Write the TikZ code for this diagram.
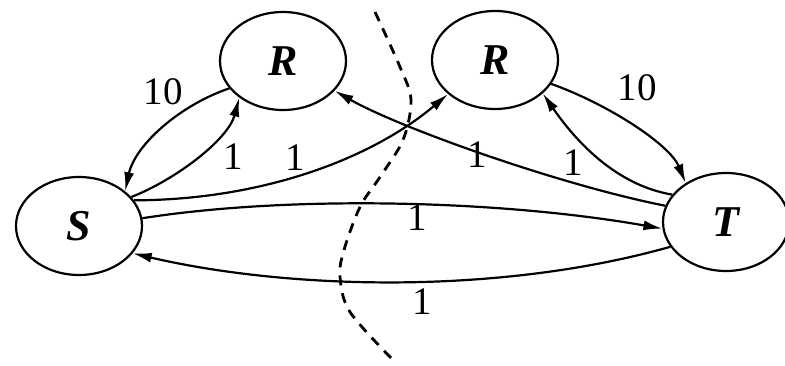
\documentclass[tikz,border=0pt]{standalone}
\usepackage{fontspec}
\setmainfont{Liberation Serif}
\usetikzlibrary{arrows.meta,shapes.geometric}
\begin{document}
\begin{tikzpicture}[x=1pt,y=-1pt,
  vert/.style={draw,ellipse,line width=2.2pt,minimum width=126pt,minimum height=98pt,inner sep=0pt,
    font=\fontsize{44}{44}\selectfont\bfseries\itshape},
  edge/.style={line width=2.2pt,-{Latex[length=19pt,width=10pt]}},
  lab/.style={font=\fontsize{39}{39}\selectfont,inner sep=0pt},
  cut/.style={line width=2.8pt,dash pattern=on 10pt off 8pt}]
\useasboundingbox (0,0) rectangle (785,366);
\node[vert] (RL) at (283,61) {R};
\node[vert] (RR) at (495,60) {R};
\node[vert] (S) at (79,226) {S};
\node[vert] (T) at (726,222) {T};
% edges
\draw[edge] (RL.207) .. controls (180,105) and (135,145) .. (S.37);
\draw[edge] (S.29) .. controls (175,180) and (228,140) .. (RL.220);
\draw[edge] (S.25) .. controls (260,200) and (370,160) .. (RR.216);
\draw[edge] (T.165) .. controls (560,185) and (400,128) .. (RL.330);
\draw[edge] (T.153) .. controls (615,185) and (575,140) .. (RR.325);
\draw[edge] (RR.337) .. controls (610,105) and (670,145) .. (T.136);
\draw[edge] (S.7) .. controls (290,195) and (500,200) .. (T.186);
\draw[edge] (T.204) .. controls (500,295) and (290,290) .. (S.333);
% labels
\node[lab] (l1) at (163,92) {10};
\node[lab] (l2) at (233,157) {1};
\node[lab] (l3) at (295,158) {1};
\node[lab] (l4) at (477,155) {1};
\node[lab] (l5) at (573,163) {1};
\node[lab] (l6) at (637,88) {10};
\node[lab] (l7) at (417,218) {1};
\node[lab] (l8) at (422,302) {1};
% cut
\draw[cut] plot[smooth,tension=0.55] coordinates {(375,12) (400,67) (411,100) (403,140) (380,177) (360,207) (344,250) (340,277) (350,312) (393,360)};
\end{tikzpicture}
\end{document}
